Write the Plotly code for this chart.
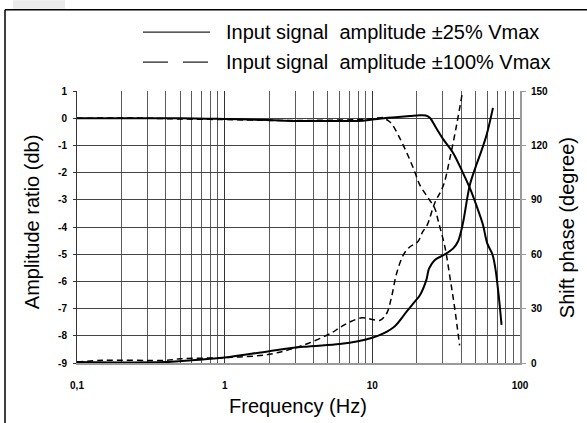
import plotly.graph_objects as go

# ---------------- data ----------------
# Amplitude ratio (db), input signal amplitude ±25% Vmax (solid)
amp25_freq = [0.1, 0.2, 0.5, 1, 2, 3, 5, 8, 10, 12, 15, 18, 21, 23, 24.5, 27, 30, 35, 41, 46, 51, 56, 60, 65, 68, 71.5, 75]
amp25_db = [0, 0, 0, -0.03, -0.07, -0.1, -0.1, -0.1, -0.05, 0, 0.04, 0.08, 0.11, 0.1, 0.02, -0.35, -0.75, -1.25, -2.0, -2.6, -3.25, -3.9, -4.6, -5.0, -5.5, -6.45, -7.6]

# Amplitude ratio (db), input signal amplitude ±100% Vmax (dashed)
amp100_freq = [0.1, 0.3, 0.5, 1, 2, 4, 8, 10, 12, 12.5, 13.5, 15, 17, 19, 21, 24, 26.5, 28, 31, 33.5, 36, 39]
amp100_db = [0, 0, -0.03, -0.05, -0.08, -0.08, -0.05, -0.02, 0.02, -0.05, -0.2, -0.63, -1.24, -1.85, -2.46, -2.95, -3.32, -3.8, -4.73, -5.83, -6.93, -8.35]

# Shift phase (degree), ±25% Vmax (solid)
ph25_freq = [0.1, 0.2, 0.4, 0.6, 1, 2, 3.4, 6, 8, 10, 11.9, 14.2, 17, 19, 21, 23.2, 24.2, 26.4, 30.3, 35.3, 38, 40, 41.5, 45.7, 50, 53.5, 59.3, 65.6]
ph25_deg = [0.5, 0.3, 0.5, 1.5, 3, 6.5, 8.9, 10.5, 12, 13.9, 16.3, 20.3, 28.2, 33, 37.4, 45.7, 52, 56.7, 59.5, 63.2, 67, 73, 79, 98, 108, 114.6, 125.6, 140.7]

# Shift phase (degree), ±100% Vmax (dashed)
ph100_freq = [0.1, 0.15, 0.4, 0.5, 1, 2, 3.4, 5.4, 6, 7, 8.5, 10, 11.3, 12.5, 13.5, 14.6, 16.2, 17.9, 20.3, 21.9, 23.5, 26.4, 30.3, 33.5, 37.2, 40.5]
ph100_deg = [0.5, 1.5, 1.5, 2.3, 3, 4.8, 9.8, 17, 19.5, 22.5, 24.9, 24, 23.6, 27.3, 36.5, 49.4, 59.5, 64, 66.8, 72.3, 76, 88, 98, 112.8, 131.2, 148]

x_tickvals = [0.1, 1, 10, 100]
x_ticktext = ["0,1", "1", "10", "100"]
x_minorvals = [m * d for d in (0.1, 1, 10) for m in range(2, 10)]
y_tickvals = [1, 0, -1, -2, -3, -4, -5, -6, -7, -8, -9]
y_ticktext = ["1", "0", "-1", "-2", "-3", "-4", "-5", "-6", "-7", "-8", "-9"]
y2_tickvals = [0, 30, 60, 90, 120, 150]
y2_ticktext = ["0", "30", "60", "90", "120", "150"]

legend_labels = ["Input signal  amplitude \u00b125% Vmax", "Input signal  amplitude \u00b1100% Vmax"]
x_title = "Frequency (Hz)"
y_title = "Amplitude ratio (db)"
y2_title = "Shift phase (degree)"

# ---------------- figure ----------------
W, H = 587, 423
L, R, T, B = 77, 520, 90.8, 362.8
FONT = "Liberation Sans, Arial, sans-serif"


def px_x(px):
    return (px - L) / (R - L)


def px_y(py):
    return (B - py) / (B - T)


fig = go.Figure()
fig.add_trace(go.Scatter(x=amp25_freq, y=amp25_db, mode="lines", line=dict(color="black", width=2),
                         line_shape="spline", showlegend=False))
fig.add_trace(go.Scatter(x=amp100_freq, y=amp100_db, mode="lines", line=dict(color="black", width=1.5, dash="6px,4px"),
                         line_shape="spline", showlegend=False))
fig.add_trace(go.Scatter(x=ph25_freq, y=ph25_deg, mode="lines", line=dict(color="black", width=2),
                         line_shape="spline", showlegend=False, yaxis="y2"))
fig.add_trace(go.Scatter(x=ph100_freq, y=ph100_deg, mode="lines", line=dict(color="black", width=1.5, dash="6px,4px"),
                         line_shape="spline", showlegend=False, yaxis="y2"))

tickfont = dict(family=FONT, size=10, color="black", weight="bold")

fig.update_layout(
    width=W, height=H,
    margin=dict(l=L, r=W - R, t=T, b=H - B, pad=0),
    paper_bgcolor="white", plot_bgcolor="white",
    showlegend=False,
    font=dict(family=FONT, color="black"),
    xaxis=dict(type="log", range=[-1, 2], tickvals=x_tickvals, ticktext=x_ticktext,
               showgrid=True, gridcolor="#333333", gridwidth=1,
               minor=dict(tickvals=x_minorvals, showgrid=True, gridcolor="#5a5a5a", gridwidth=1, ticks=""),
               showline=True, linecolor="#9a9a9a", linewidth=2, ticks="", tickfont=tickfont,
               ticklabelstandoff=12, zeroline=False, automargin=False),
    yaxis=dict(range=[-9, 1], tickvals=y_tickvals, ticktext=y_ticktext,
               showgrid=True, gridcolor="#444444", gridwidth=1, zeroline=False,
               showline=True, linecolor="#333333", linewidth=1, ticks="outside", ticklen=3,
               tickcolor="#333333", tickfont=tickfont, ticklabelstandoff=4, automargin=False),
    yaxis2=dict(range=[0, 150], overlaying="y", side="right", tickvals=y2_tickvals, ticktext=y2_ticktext,
                showgrid=False, zeroline=False, showline=True, linecolor="#9a9a9a", linewidth=2,
                ticks="outside", ticklen=4, tickcolor="#9a9a9a", tickfont=tickfont,
                ticklabelstandoff=3, automargin=False),
)

# axis titles
title_font = dict(family=FONT, size=20, color="black")
fig.add_annotation(text=x_title, xref="paper", yref="paper", x=px_x(298), y=px_y(406),
                   showarrow=False, font=title_font, xanchor="center", yanchor="middle")
fig.add_annotation(text=y_title, xref="paper", yref="paper", x=px_x(32), y=px_y(222),
                   showarrow=False, font=title_font, textangle=-90, xanchor="center", yanchor="middle")
fig.add_annotation(text=y2_title, xref="paper", yref="paper", x=px_x(567), y=px_y(228),
                   showarrow=False, font=title_font, textangle=-90, xanchor="center", yanchor="middle")

# legend (drawn manually to match long sample lines)
legend_font = dict(family=FONT, size=20, color="black")
for i, (lab, dash) in enumerate(zip(legend_labels, ["solid", "25px,15px"])):
    yy = [32, 62][i]
    fig.add_shape(type="line", xref="paper", yref="paper", x0=px_x(143), x1=px_x(210),
                  y0=px_y(yy), y1=px_y(yy), line=dict(color="#222222", width=1.2, dash=dash))
    fig.add_annotation(text=lab, xref="paper", yref="paper", x=px_x(224), y=px_y(yy),
                       showarrow=False, font=legend_font, xanchor="left", yanchor="middle")

# outer frame (left and top edges) and small grey tab
fig.add_shape(type="line", xref="paper", yref="paper", x0=px_x(5), x1=px_x(5), y0=px_y(9.5), y1=px_y(430),
              line=dict(color="black", width=1.5))
fig.add_shape(type="line", xref="paper", yref="paper", x0=px_x(5), x1=px_x(600), y0=px_y(9.5), y1=px_y(9.5),
              line=dict(color="black", width=1.5))
fig.add_shape(type="rect", xref="paper", yref="paper", x0=px_x(13), x1=px_x(65), y0=px_y(0), y1=px_y(8.5),
              line=dict(width=0), fillcolor="#ebebeb")

fig.write_html("out.html")
